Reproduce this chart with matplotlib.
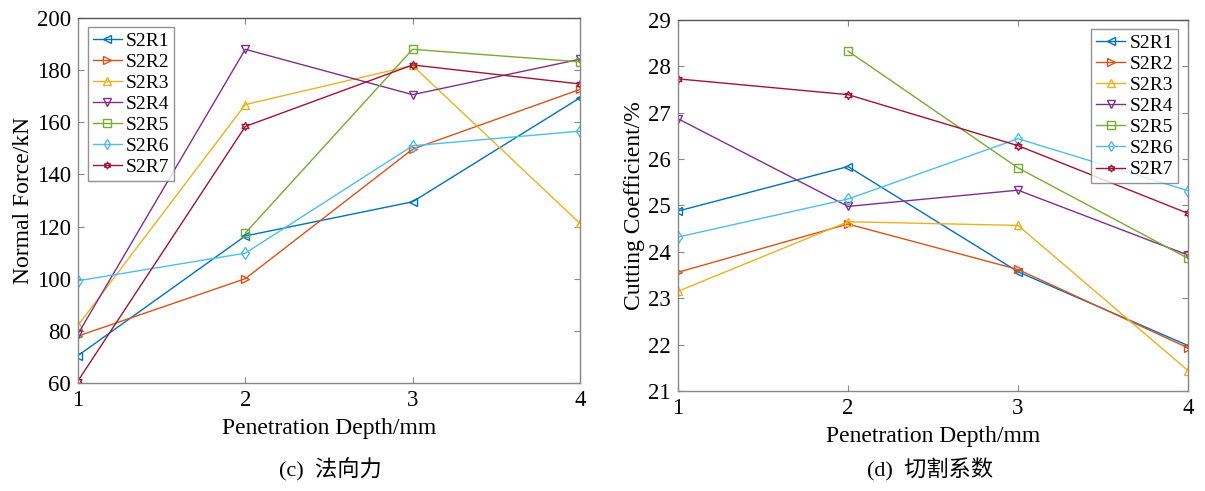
import numpy as np
import matplotlib
matplotlib.use("Agg")
import matplotlib.pyplot as plt

plt.rcParams['font.family'] = ['Liberation Serif', 'Noto Sans CJK SC']
plt.rcParams['mathtext.fontset'] = 'stix'

depth = [1, 2, 3, 4]
names = ['S2R1', 'S2R2', 'S2R3', 'S2R4', 'S2R5', 'S2R6', 'S2R7']

# normal force, kN (S2R5 has no value at 1 mm)
force_r1 = [70.5, 116.4, 129.5, 169.4]
force_r2 = [78.0, 100.0, 149.7, 172.6]
force_r3 = [82.1, 166.8, 181.8, 121.2]
force_r4 = [78.8, 188.0, 170.6, 184.2]
force_r5 = [np.nan, 117.5, 188.0, 183.2]
force_r6 = [99.2, 109.8, 151.0, 156.6]
force_r7 = [60.8, 158.4, 182.0, 174.7]

# cutting coefficient, %
coef_r1 = [24.88, 25.84, 23.57, 21.98]
coef_r2 = [23.56, 24.60, 23.62, 21.93]
coef_r3 = [23.15, 24.65, 24.57, 21.44]
coef_r4 = [26.87, 24.98, 25.33, 23.93]
coef_r5 = [np.nan, 28.33, 25.81, 23.86]
coef_r6 = [24.32, 25.14, 26.44, 25.32]
coef_r7 = [27.73, 27.39, 26.29, 24.83]

colors = ['#0072BD', '#D95319', '#EDB120', '#7E2F8E', '#77AC30', '#4DBEEE', '#A2142F']
markers = ['<', '>', '^', 'v', 's', 'd', (6, 1, 0)]

force = [force_r1, force_r2, force_r3, force_r4, force_r5, force_r6, force_r7]
coef = [coef_r1, coef_r2, coef_r3, coef_r4, coef_r5, coef_r6, coef_r7]

fig = plt.figure(figsize=(12.05, 4.91), dpi=100)
ax1 = fig.add_axes([0.0647, 0.2200, 0.4166, 0.7433])
ax2 = fig.add_axes([0.5627, 0.2037, 0.4232, 0.7556])


def draw(ax, series, ylim, yticks, ylabel, legend_loc, legend_anchor):
    for vals, name, c, m in zip(series, names, colors, markers):
        ax.plot(depth, vals, color=c, lw=1.0, marker=m, ms=6,
                mfc='none', mec=c, mew=1.0, label=name)
    ax.set_xlim(1, 4)
    ax.set_ylim(*ylim)
    ax.set_xticks(depth)
    ax.set_yticks(yticks)
    ax.tick_params(direction='in', top=True, right=True, length=4,
                   color='#888888', labelsize=16.5, pad=5)
    for s in ax.spines.values():
        s.set_color('#888888')
        s.set_linewidth(1.0)
    ax.spines['top'].set_color('#555555')
    ax.set_xlabel('Penetration Depth/mm', fontsize=17, labelpad=5)
    ax.set_ylabel(ylabel, fontsize=17, labelpad=2)
    leg = ax.legend(loc=legend_loc, bbox_to_anchor=legend_anchor, fontsize=14,
                    frameon=True, fancybox=False, edgecolor='#777777',
                    handlelength=1.5, handletextpad=0.2, labelspacing=0.18,
                    borderpad=0.25, borderaxespad=0.0, markerscale=0.85)
    leg.get_frame().set_linewidth(1.0)


draw(ax1, force, (60, 200), np.arange(60, 201, 20), 'Normal Force/kN',
     'upper left', (0.02, 0.975))
draw(ax2, coef, (21, 29), np.arange(21, 30, 1), 'Cutting Coefficient/%',
     'upper right', (0.98, 0.975))

fig.text(0.274, 0.043, '(c)  法向力', fontsize=16, ha='center', va='center')
fig.text(0.772, 0.043, '(d)  切割系数', fontsize=16, ha='center', va='center')

fig.savefig('out.png', dpi=100)
